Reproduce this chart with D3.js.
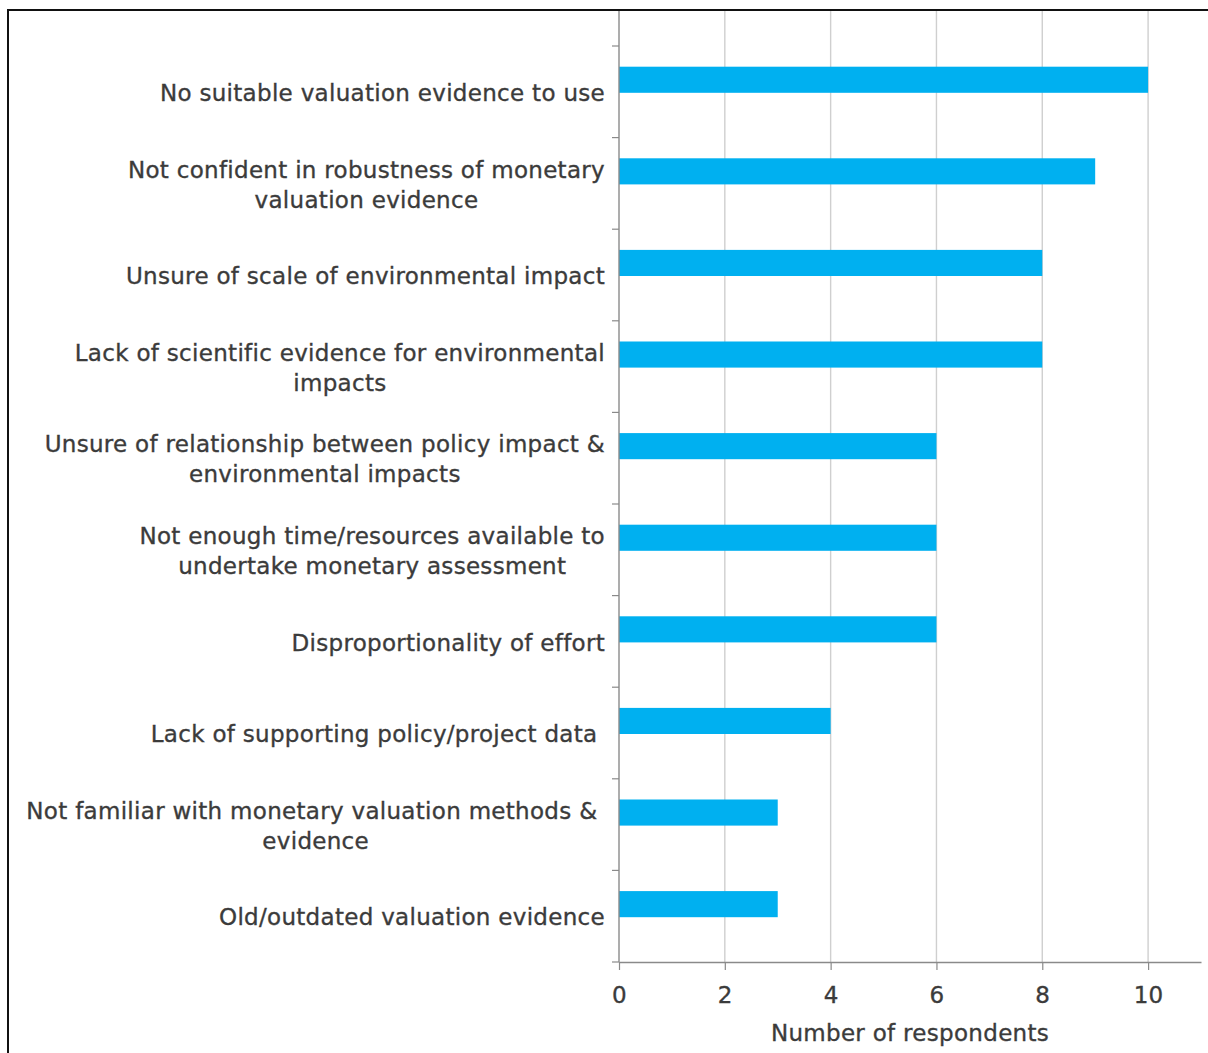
<!DOCTYPE html>
<html>
<head>
<meta charset="utf-8">
<script src="https://cdn.jsdelivr.net/npm/d3@7"></script>
<style>
  html, body { margin: 0; padding: 0; background: #fff; }
  svg text {
    font-family: "DejaVu Sans", sans-serif; fill: #3b3b3b; white-space: pre;
    letter-spacing: 0.3px; stroke: #3b3b3b; stroke-width: 0.35px;
  }
</style>
</head>
<body>
<svg id="chart" width="1208" height="1053"></svg>
<script>
// Barriers to monetary valuation of environmental impacts
const categories = [
  ["No suitable valuation evidence to use"],
  ["Not confident in robustness of monetary", "valuation evidence"],
  ["Unsure of scale of environmental impact"],
  ["Lack of scientific evidence for environmental", "impacts"],
  ["Unsure of relationship between policy impact &", "environmental impacts"],
  ["Not enough time/resources available to", "undertake monetary assessment"],
  ["Disproportionality of effort"],
  ["Lack of supporting policy/project data "],
  ["Not familiar with monetary valuation methods & ", "evidence"],
  ["Old/outdated valuation evidence"]
];
const respondents = [10, 9, 8, 8, 6, 6, 6, 4, 3, 3];
const xTicks = [0, 2, 4, 6, 8, 10];
const xTitle = "Number of respondents";

const svg = d3.select("#chart");
const plot = { left: 619, right: 1201, top: 46, bottom: 962 };
const fs = 23;

// outer frame
svg.append("rect")
  .attr("x", 8).attr("y", 10).attr("width", 1400).attr("height", 1200)
  .attr("fill", "none").attr("stroke", "#111").attr("stroke-width", 2);

const x = d3.scaleLinear().domain([0, 11]).range([plot.left, plot.right]);
const y = d3.scaleBand().domain(d3.range(categories.length))
  .range([plot.top, plot.bottom]).paddingInner(0).paddingOuter(0);

// vertical gridlines
svg.append("g").selectAll("line").data(xTicks.filter(d => d > 0)).join("line")
  .attr("x1", d => x(d)).attr("x2", d => x(d))
  .attr("y1", 11).attr("y2", plot.bottom)
  .attr("stroke", "#cfcfcf").attr("stroke-width", 1.4);

// bars: the visible series sits in the upper half of each category slot
const barH = y.bandwidth() * 0.285;
svg.append("g").selectAll("rect").data(respondents).join("rect")
  .attr("x", x(0))
  .attr("y", (d, i) => y(i) + y.bandwidth() / 2 - barH + 1)
  .attr("width", d => x(d) - x(0))
  .attr("height", barH)
  .attr("fill", "#00b0f0");

// x axis
const xAxis = svg.append("g")
  .attr("transform", `translate(0,${plot.bottom})`)
  .call(d3.axisBottom(x).tickValues(xTicks).tickSize(8).tickPadding(11).tickSizeOuter(0));
xAxis.select(".domain").attr("stroke", "#8a8a8a").attr("stroke-width", 1.4);
xAxis.selectAll(".tick line").attr("stroke", "#8a8a8a").attr("stroke-width", 1.2);
xAxis.selectAll(".tick text")
  .style("font-size", fs + "px").attr("fill", "#3b3b3b").attr("dy", "0.95em");

// category axis line and boundary ticks
svg.append("line")
  .attr("x1", plot.left).attr("x2", plot.left)
  .attr("y1", 11).attr("y2", plot.bottom)
  .attr("stroke", "#8a8a8a").attr("stroke-width", 1.4);
const bounds = d3.range(categories.length + 1).map(i => plot.top + i * y.step());
svg.append("g").selectAll("line").data(bounds).join("line")
  .attr("x1", plot.left - 7).attr("x2", plot.left)
  .attr("y1", d => d).attr("y2", d => d)
  .attr("stroke", "#8a8a8a").attr("stroke-width", 1.2);

// category labels: each block right-aligned to the axis, lines centered within it
const labelRight = 605, lineH = 30;
categories.forEach((lines, i) => {
  const g = svg.append("g");
  const texts = lines.map(t => g.append("text").style("font-size", fs + "px").text(t));
  const w = d3.max(texts, t => t.node().getComputedTextLength());
  const cy = y(i) + y.bandwidth() / 2 + 1;
  const top = cy - (lines.length - 1) * lineH / 2;
  texts.forEach((t, k) => {
    t.attr("x", labelRight - w / 2).attr("y", top + k * lineH)
      .attr("text-anchor", "middle").attr("dy", "0.36em");
  });
});

// axis title
svg.append("text")
  .attr("x", (plot.left + plot.right) / 2).attr("y", 1041)
  .attr("text-anchor", "middle").style("font-size", fs + "px")
  .text(xTitle);
</script>
</body>
</html>
